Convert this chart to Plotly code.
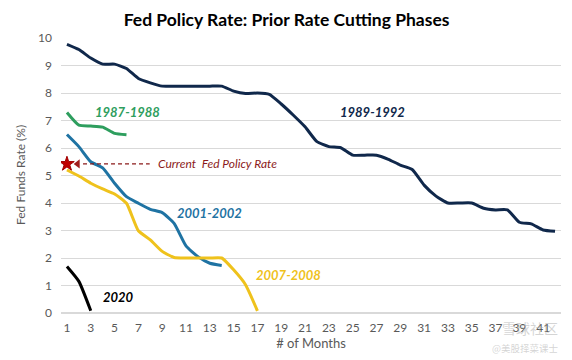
import plotly.graph_objects as go

months = list(range(1, 43))

rate_1987_1988 = [7.29, 6.83, 6.80, 6.76, 6.53, 6.48]
rate_1989_1992 = [9.77, 9.58, 9.27, 9.05, 9.05, 8.89, 8.53, 8.37, 8.25, 8.25,
                  8.25, 8.25, 8.25, 8.25, 8.07, 7.98, 8.00, 7.95, 7.60, 7.20,
                  6.77, 6.23, 6.05, 6.01, 5.74, 5.74, 5.74, 5.59, 5.38, 5.22,
                  4.65, 4.25, 4.00, 4.00, 4.00, 3.81, 3.75, 3.75, 3.30, 3.24,
                  3.02, 2.97]
rate_2001_2002 = [6.49, 6.05, 5.50, 5.28, 4.72, 4.23, 3.99, 3.77, 3.65, 3.26,
                  2.44, 2.05, 1.81, 1.73]
rate_2007_2008 = [5.20, 4.98, 4.72, 4.51, 4.33, 3.99, 2.99, 2.66, 2.24, 2.02,
                  2.00, 2.00, 2.00, 2.00, 1.57, 1.03, 0.08]
rate_2020 = [1.69, 1.15, 0.08]
current_rate = 5.42

series = [
    ("1987-1988", rate_1987_1988, "#2e9e5e"),
    ("1989-1992", rate_1989_1992, "#10284b"),
    ("2001-2002", rate_2001_2002, "#1f73a3"),
    ("2007-2008", rate_2007_2008, "#efc21c"),
    ("2020", rate_2020, "#000000"),
]

# label positions (month, value) for series names
label_pos = {
    "1987-1988": (6.05, 7.30, "#2e9e5e"),
    "1989-1992": (26.7, 7.30, "#10284b"),
    "2001-2002": (13.0, 3.64, "#1f73a3"),
    "2007-2008": (19.6, 1.39, "#efc21c"),
    "2020": (5.3, 0.59, "#000000"),
}

fig = go.Figure()
for name, vals, color in series:
    fig.add_trace(go.Scatter(
        x=months[:len(vals)], y=vals, mode="lines", name=name,
        line=dict(color=color, width=3, shape="spline", smoothing=0.5),
        showlegend=False, hoverinfo="skip"))

# dashed arrow pointing to current rate
fig.add_trace(go.Scatter(
    x=[2.35, 7.95], y=[current_rate, current_rate], mode="lines",
    line=dict(color="#8b1a1a", width=1.2, dash="4px,3px"),
    showlegend=False, hoverinfo="skip"))
fig.add_trace(go.Scatter(
    x=[1.9], y=[current_rate], mode="markers",
    marker=dict(symbol="triangle-left", size=8, color="#a01c1c"),
    showlegend=False, hoverinfo="skip"))
fig.add_trace(go.Scatter(
    x=[1], y=[current_rate], mode="markers",
    marker=dict(symbol="star", size=11, color="#c00000",
                line=dict(color="#a00000", width=1)),
    showlegend=False, hoverinfo="skip"))

annotations = []
for name, (mx, my, col) in label_pos.items():
    annotations.append(dict(
        x=mx, y=my, xref="x", yref="y", text="<b><i>%s</i></b>" % name,
        showarrow=False, font=dict(family="Lato", size=13, color=col)))
annotations.append(dict(
    x=8.45, y=current_rate, xref="x", yref="y", xanchor="left",
    text="<i>Current  Fed Policy Rate</i>", showarrow=False,
    font=dict(family="Lato", size=12, color="#8b1a1a")))
# y-axis title
annotations.append(dict(
    x=-0.1, y=0.5, xref="paper", yref="paper", textangle=-90,
    text="Fed Funds Rate (%)", showarrow=False,
    font=dict(family="Lato", size=12, color="#595959")))
# watermark
annotations.append(dict(
    x=0.998, y=-0.055, xref="paper", yref="paper", xanchor="right", yanchor="middle",
    text="雪球社区", showarrow=False,
    font=dict(family="Noto Sans CJK SC", size=14, color="rgba(170,170,170,0.5)")))
annotations.append(dict(
    x=0.998, y=-0.127, xref="paper", yref="paper", xanchor="right", yanchor="middle",
    text="@美股择菜课士", showarrow=False,
    font=dict(family="Noto Sans CJK SC", size=9.5, color="rgba(170,170,170,0.5)")))

fig.update_layout(
    width=572, height=360,
    margin=dict(l=53, r=19, t=30, b=55),
    paper_bgcolor="white", plot_bgcolor="white",
    title=dict(text="<b>Fed Policy Rate: Prior Rate Cutting Phases</b>",
               x=0.487, xanchor="center", y=0.967, yanchor="middle",
               font=dict(family="Lato", size=17.5, color="#000000")),
    font=dict(family="Lato", color="#595959"),
    annotations=annotations,
)
fig.update_xaxes(
    range=[0.5, 42.5], tickmode="array",
    tickvals=list(range(1, 42, 2)), ticktext=[str(v) for v in range(1, 42, 2)],
    showgrid=False, zeroline=False, showline=False, ticks="",
    tickfont=dict(size=12, color="#595959"), ticklabelstandoff=6,
    title=dict(text="# of Months", font=dict(size=13, color="#595959"), standoff=4),
)
fig.update_yaxes(
    range=[0, 10], tickmode="array", tickvals=list(range(0, 11)),
    showgrid=True, gridcolor="#d9d9d9", gridwidth=1, zeroline=True,
    zerolinecolor="#d9d9d9", showline=False, ticks="",
    tickfont=dict(size=12, color="#595959"), ticklabelstandoff=8,
)

fig.write_html("out.html")
